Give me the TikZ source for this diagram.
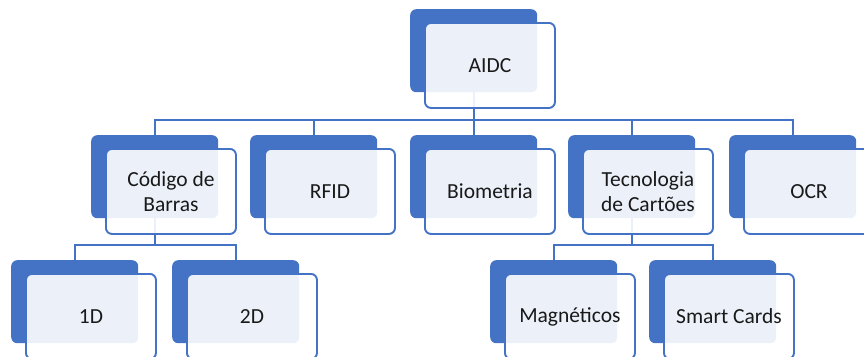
\documentclass[tikz,border=0pt]{standalone}
\usepackage{fontspec}
\setmainfont{Carlito}
\definecolor{ofblue}{HTML}{4472C4}
\tikzset{
  backbox/.style={fill=ofblue, rounded corners=6pt, minimum width=127pt, minimum height=83pt, inner sep=0pt, anchor=north west},
  frontbox/.style={draw=ofblue, line width=1.9pt, fill=white, fill opacity=0.9, text opacity=1, rounded corners=6pt, minimum width=130pt, minimum height=85pt, inner sep=0pt, anchor=north west, align=center, font=\fontsize{21.5}{24.5}\selectfont, text=black!90},
  conn/.style={draw=ofblue, line width=2pt}
}
\newcommand\mkbox[4]{%
  \node[backbox] (#1B) at (#2,#3) {};
  \node[frontbox] (#1) at ([xshift=14pt,yshift=-13pt]#1B.north west) {#4};
}
\begin{document}
\begin{tikzpicture}[x=1pt,y=-1pt]
\useasboundingbox (0,0) rectangle (864,356);
\clip (0,0) rectangle (864,356);
% bus coordinates
\coordinate (busA) at (474,120);
\coordinate (busB) at (0,245);
% back boxes positions (needed for connectors first)
\path (410,9) coordinate (pA) (91,135) coordinate (pC) (250,135) coordinate (pR)
      (410,135) coordinate (pB) (568,135) coordinate (pT) (729,135) coordinate (pO)
      (11,260) coordinate (p1) (172,260) coordinate (p2) (490,260) coordinate (pM) (649,260) coordinate (pS);
% invisible anchors of back boxes for connector routing
\foreach \n in {A,C,R,B,T,O,1,2,M,S}{
  \node[backbox, fill=none] (k\n) at (p\n) {};
}
% connectors (drawn beneath boxes)
\draw[conn] (kA.south) -- (kA.south |- busA);
\foreach \n in {C,R,B,T,O}{
  \draw[conn] (kA.south |- busA) -| (k\n.north);
}
\foreach \pp/\ch in {C/1,C/2,T/M,T/S}{
  \draw[conn] (k\pp.south) -- (k\pp.south |- busB) -| (k\ch.north);
}
% boxes
\mkbox{aidc}{410}{9}{AIDC}
\mkbox{cod}{91}{135}{Código de\\Barras}
\mkbox{rfid}{250}{135}{RFID}
\mkbox{bio}{410}{135}{Biometria}
\mkbox{tec}{568}{135}{Tecnologia\\de Cartões}
\mkbox{ocr}{729}{135}{OCR}
\mkbox{oneD}{11}{260}{1D}
\mkbox{twoD}{172}{260}{2D}
\mkbox{mag}{490}{260}{Magnéticos}
\mkbox{smart}{649}{260}{Smart Cards}
\end{tikzpicture}
\end{document}
